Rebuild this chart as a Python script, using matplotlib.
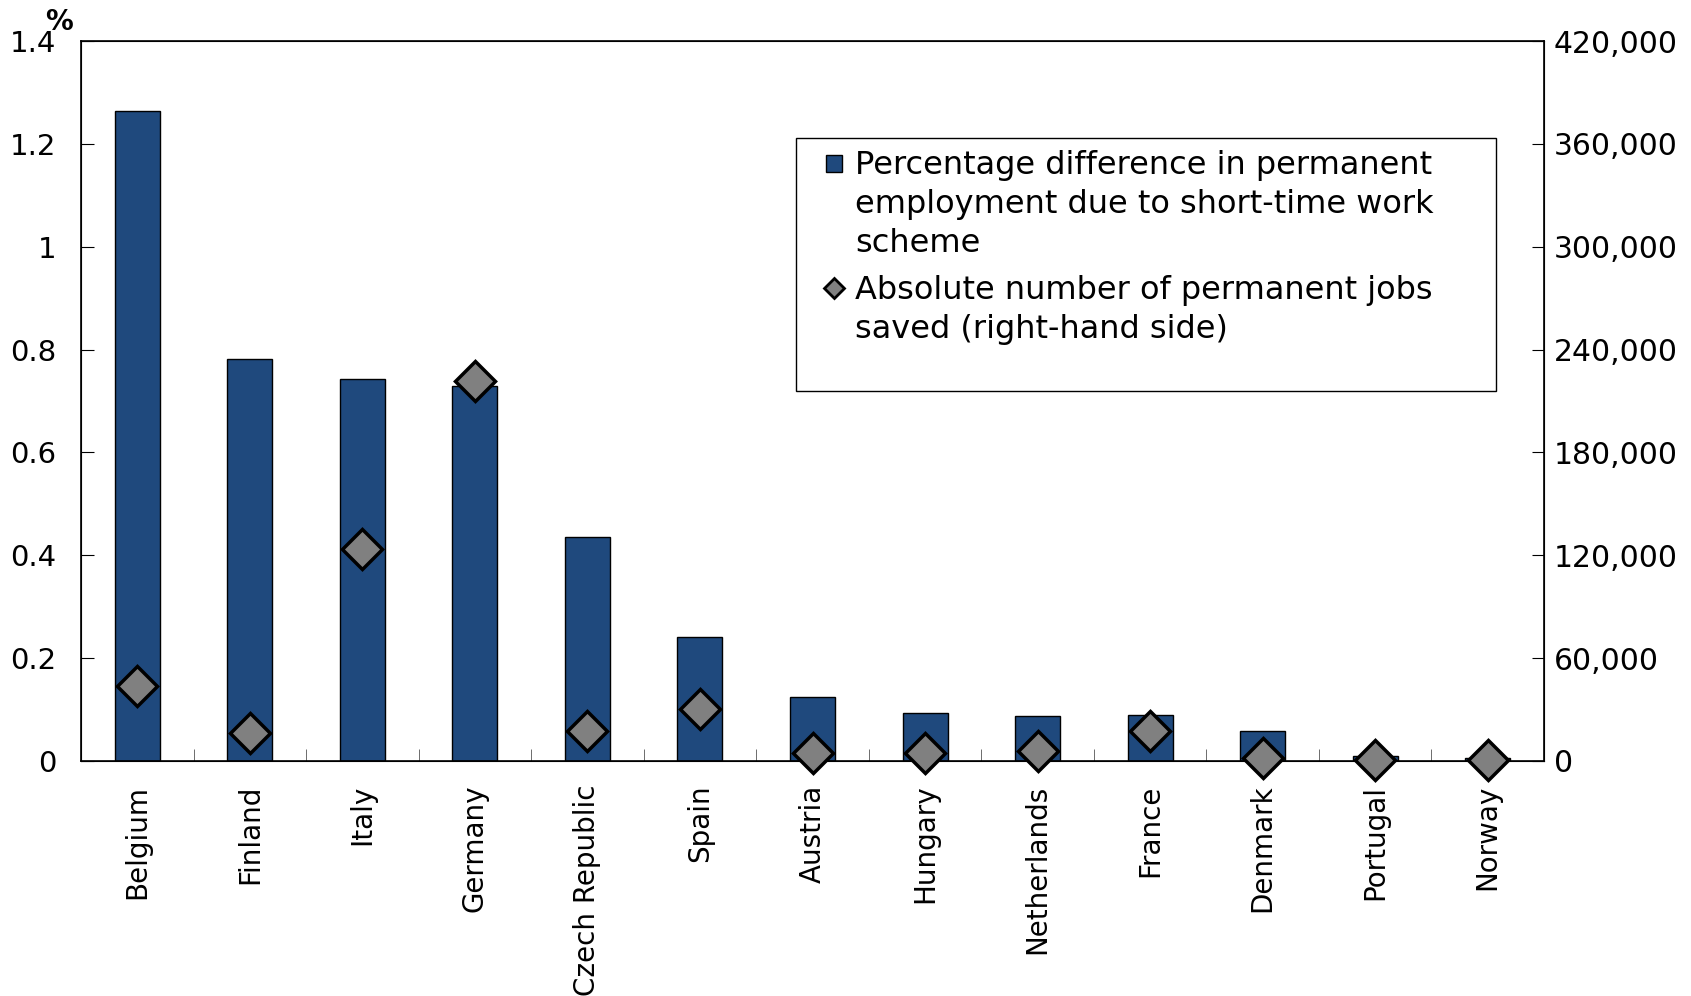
import matplotlib.pyplot as plt
import numpy as np
from matplotlib.patches import Rectangle
from matplotlib.ticker import FuncFormatter, FixedLocator

countries = ['Belgium', 'Finland', 'Italy', 'Germany', 'Czech Republic', 'Spain',
             'Austria', 'Hungary', 'Netherlands', 'France', 'Denmark', 'Portugal', 'Norway']
pct_diff = [1.264, 0.782, 0.742, 0.729, 0.436, 0.241, 0.124, 0.094, 0.088, 0.090, 0.059, 0.010, 0.006]
jobs_saved = [44000, 16300, 123900, 221900, 17600, 30200, 4400, 4400, 5700, 17600, 1900, 500, 500]
left_ticks = [0, 0.2, 0.4, 0.6, 0.8, 1, 1.2, 1.4]
left_labels = ['0', '0.2', '0.4', '0.6', '0.8', '1', '1.2', '1.4']
right_ticks = [0, 60000, 120000, 180000, 240000, 300000, 360000, 420000]
legend_labels = ['Percentage difference in permanent\nemployment due to short-time work\nscheme',
                 'Absolute number of permanent jobs\nsaved (right-hand side)']

bar_color = '#1F497D'
diamond_color = '#808080'

fig = plt.figure(figsize=(16.91, 9.96), dpi=100)
ax = fig.add_axes([81 / 1691, 1 - 761 / 996, 1463 / 1691, 720 / 996])
x = np.arange(len(countries))

ax.bar(x, pct_diff, width=0.4, color=bar_color, edgecolor='black', linewidth=1)
ax.set_xlim(-0.5, len(countries) - 0.5)
ax.set_ylim(0, 1.4)
ax.set_yticks(left_ticks)
ax.set_yticklabels(left_labels)
ax.set_xticks(x)
ax.set_xticklabels(countries, rotation=90)
ax.xaxis.set_minor_locator(FixedLocator(np.arange(0.5, len(countries) - 1, 1)))
ax.tick_params(axis='x', which='major', length=0, pad=17, labelsize=20)
ax.tick_params(axis='x', which='minor', direction='in', length=9, color='#555555')
ax.tick_params(axis='y', direction='in', length=9, pad=18, labelsize=21)
for s in ax.spines.values():
    s.set_linewidth(1.2)

ax2 = ax.twinx()
ax2.plot(x, jobs_saved, linestyle='none', marker='D', markersize=20,
         markerfacecolor=diamond_color, markeredgecolor='black', markeredgewidth=2.5,
         clip_on=False, zorder=5)
ax2.set_ylim(0, 420000)
ax2.set_yticks(right_ticks)
ax2.yaxis.set_major_formatter(FuncFormatter(lambda v, p: f'{int(v):,}'))
ax2.tick_params(axis='y', direction='in', length=9, pad=7, labelsize=21.5)

fig.text(59 / 1691, 1 - 22 / 996, '%', fontsize=20, fontweight='bold', ha='center', va='center')

# legend drawn by hand so the keys sit on the first line of each entry
ax2.add_patch(Rectangle((0.489, 0.514), 0.478, 0.351, transform=ax2.transAxes,
                        facecolor='white', edgecolor='black', linewidth=1, zorder=6))
ax2.add_patch(Rectangle((0.509, 0.818), 0.0115, 0.023, transform=ax2.transAxes,
                        facecolor=bar_color, edgecolor='black', linewidth=1, zorder=7))
ax2.plot([0.515], [0.657], transform=ax2.transAxes, linestyle='none', marker='D',
         markersize=10, markerfacecolor=diamond_color, markeredgecolor='black',
         markeredgewidth=2, zorder=7)
ax2.text(0.529, 0.848, legend_labels[0], transform=ax2.transAxes, fontsize=23,
         va='top', ha='left', linespacing=1.32, zorder=8)
ax2.text(0.529, 0.675, legend_labels[1], transform=ax2.transAxes, fontsize=23,
         va='top', ha='left', linespacing=1.32, zorder=8)

fig.savefig('out.png', dpi=100)
